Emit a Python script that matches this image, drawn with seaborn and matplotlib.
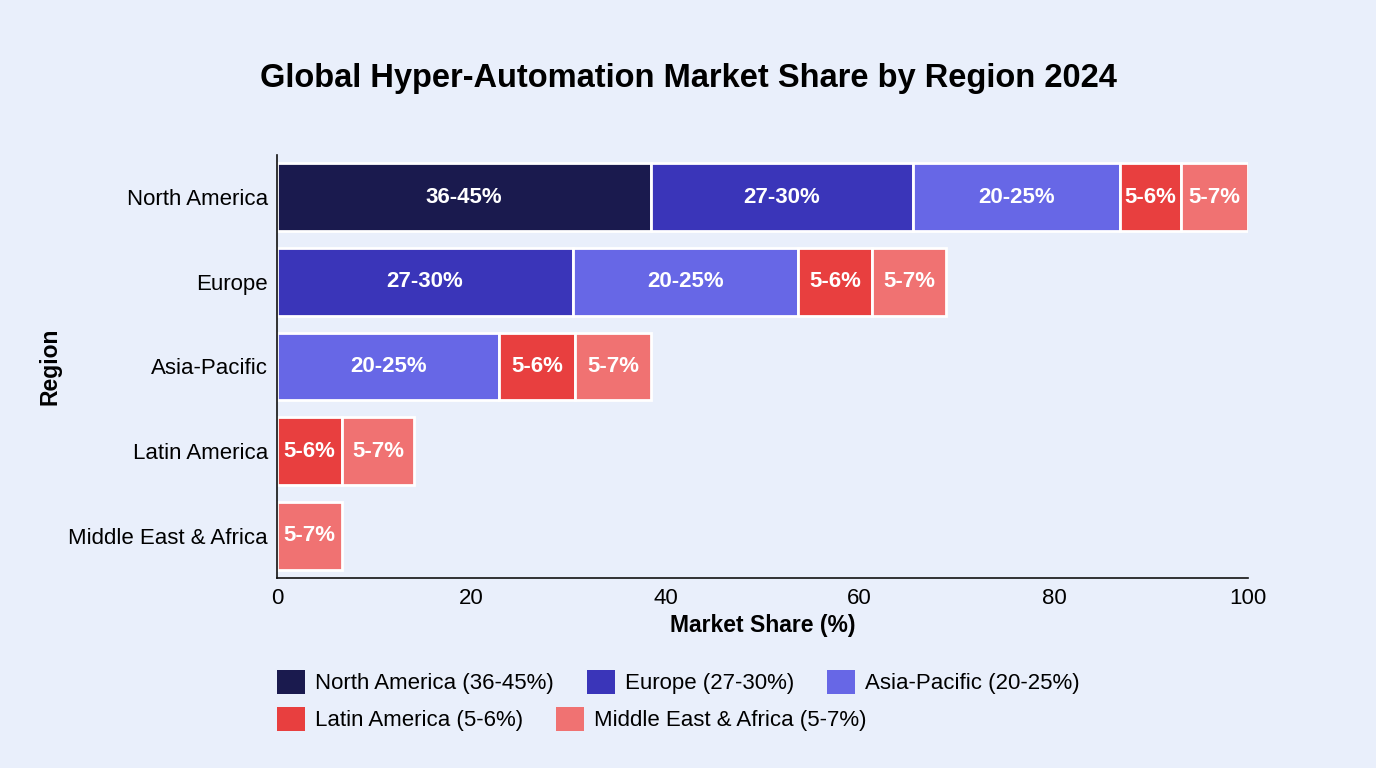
import matplotlib
matplotlib.use("Agg")
import matplotlib.pyplot as plt
import matplotlib.patches as mpatches
import pandas as pd
import seaborn as sns

# rows of the chart (top to bottom)
regions = ["North America", "Europe", "Asia-Pacific", "Latin America", "Middle East & Africa"]

# stacked segments, left to right, with width of each segment per row (None = not in that row)
series = ["North America", "Europe", "Asia-Pacific", "Latin America", "Middle East & Africa"]
seg_labels = ["36-45%", "27-30%", "20-25%", "5-6%", "5-7%"]
na_vals = [38.5, None, None, None, None]
eu_vals = [27.0, 30.5, None, None, None]
ap_vals = [21.3, 23.1, 22.9, None, None]
la_vals = [6.3, 7.7, 7.8, 6.7, None]
mea_vals = [6.9, 7.6, 7.8, 7.4, 6.7]
legend_labels = ["North America (36-45%)", "Europe (27-30%)", "Asia-Pacific (20-25%)",
                 "Latin America (5-6%)", "Middle East & Africa (5-7%)"]

colors = ["#1a1a4e", "#3a35b9", "#6767e6", "#e83f3f", "#f07272"]
bg = "#e9effb"

sns.set_style("white")
plt.rcParams["font.family"] = ["Liberation Sans", "DejaVu Sans"]
plt.rcParams["text.color"] = "black"
plt.rcParams["axes.labelcolor"] = "black"

fig = plt.figure(figsize=(13.76, 7.68), dpi=100)
fig.patch.set_facecolor(bg)
ax = fig.add_axes([277 / 1376, 1 - 578 / 768, (1248.5 - 277.3) / 1376, (578 - 155) / 768])
ax.set_facecolor(bg)

all_vals = [na_vals, eu_vals, ap_vals, la_vals, mea_vals]
left_acc = [0.0] * len(regions)
for s, vals, col, lab in zip(series, all_vals, colors, seg_labels):
    rows = [(r, v, left_acc[i]) for i, (r, v) in enumerate(zip(regions, vals)) if v is not None]
    df = pd.DataFrame(rows, columns=["region", "share", "left"])
    sns.barplot(data=df, x="share", y="region", order=regions, color=col, saturation=1,
                left=df["left"].values, width=0.8, edgecolor="white", linewidth=2,
                errorbar=None, ax=ax)
    ax.bar_label(ax.containers[-1], labels=[lab] * len(df), label_type="center",
                 color="white", fontsize=16, fontweight="bold")
    for i, v in enumerate(vals):
        if v is not None:
            left_acc[i] += v

ax.set_xlim(0, 100)
ax.set_ylim(4.5, -0.5)
ax.set_xticks([0, 20, 40, 60, 80, 100])
ax.tick_params(axis="both", length=0, labelsize=16, colors="black")
ax.tick_params(axis="x", pad=7.5)
ax.tick_params(axis="y", pad=6.5)
for sp in ["top", "right"]:
    ax.spines[sp].set_visible(False)
for sp in ["left", "bottom"]:
    ax.spines[sp].set_color("#111111")
    ax.spines[sp].set_linewidth(1.2)

ax.set_xlabel("Market Share (%)", fontsize=16.5, fontweight="bold", labelpad=3)
ax.set_ylabel("Region", fontsize=16.5, fontweight="bold", labelpad=5)
fig.suptitle("Global Hyper-Automation Market Share by Region 2024", fontsize=23.5,
             fontweight="bold", x=0.5, y=1 - 63 / 768, va="top")

handles = [mpatches.Patch(facecolor=c, edgecolor="none", label=l) for c, l in zip(colors, legend_labels)]
common = dict(frameon=False, fontsize=16, handlelength=1.25, handleheight=1.25,
              handletextpad=0.45, columnspacing=1.5, borderpad=0, borderaxespad=0)
leg1 = fig.legend(handles=handles[:3], ncol=3, loc="upper left",
                  bbox_to_anchor=(277 / 1376, 1 - 670 / 768), **common)
leg2 = fig.legend(handles=handles[3:], ncol=2, loc="upper left",
                  bbox_to_anchor=(277 / 1376, 1 - 707 / 768), **common)

fig.savefig("out.png", dpi=100, facecolor=bg)
